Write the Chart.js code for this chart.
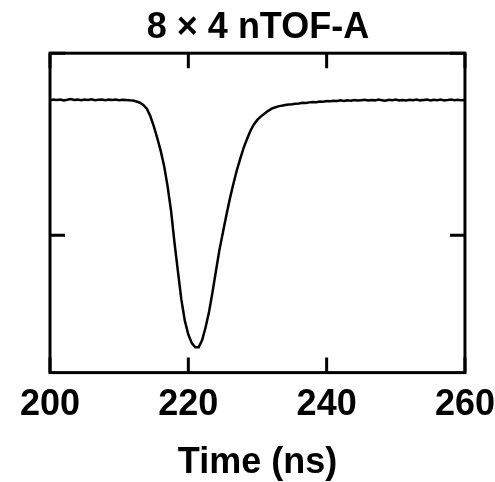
<!DOCTYPE html>
<html>
<head>
<meta charset="utf-8">
<script src="https://cdn.jsdelivr.net/npm/chart.js@4.4.1/dist/chart.umd.min.js"></script>
<style>
  html, body { margin: 0; padding: 0; background: #fff; }
  #wrap { width: 495px; height: 482px; }
</style>
</head>
<body>
<div id="wrap"><canvas id="pulseChart"></canvas></div>
<script>
// time axis (ns), sampled every 0.5 ns
const times = [
  200.0, 200.5, 201.0, 201.5, 202.0, 202.5, 203.0, 203.5, 204.0, 204.5,
  205.0, 205.5, 206.0, 206.5, 207.0, 207.5, 208.0, 208.5, 209.0, 209.5,
  210.0, 210.5, 211.0, 211.5, 212.0, 212.5, 213.0, 213.5, 214.0, 214.5,
  215.0, 215.5, 216.0, 216.5, 217.0, 217.5, 218.0, 218.5, 219.0, 219.5,
  220.0, 220.5, 221.0, 221.5, 222.0, 222.5, 223.0, 223.5, 224.0, 224.5,
  225.0, 225.5, 226.0, 226.5, 227.0, 227.5, 228.0, 228.5, 229.0, 229.5,
  230.0, 230.5, 231.0, 231.5, 232.0, 232.5, 233.0, 233.5, 234.0, 234.5,
  235.0, 235.5, 236.0, 236.5, 237.0, 237.5, 238.0, 238.5, 239.0, 239.5,
  240.0, 240.5, 241.0, 241.5, 242.0, 242.5, 243.0, 243.5, 244.0, 244.5,
  245.0, 245.5, 246.0, 246.5, 247.0, 247.5, 248.0, 248.5, 249.0, 249.5,
  250.0, 250.5, 251.0, 251.5, 252.0, 252.5, 253.0, 253.5, 254.0, 254.5,
  255.0, 255.5, 256.0, 256.5, 257.0, 257.5, 258.0, 258.5, 259.0, 259.5,
  260.0
];

// detector signal (arb. units)
const signal = [
  -0.258, -0.255, -0.257, -0.254, -0.259, -0.256, -0.252, -0.257, -0.255, -0.258,
  -0.254, -0.257, -0.253, -0.258, -0.256, -0.254, -0.258, -0.255, -0.257, -0.254,
  -0.258, -0.256, -0.257, -0.259, -0.260, -0.265, -0.272, -0.284, -0.305, -0.345,
  -0.400, -0.465, -0.535, -0.620, -0.730, -0.865, -1.040, -1.200, -1.355, -1.470,
  -1.545, -1.592, -1.615, -1.615, -1.575, -1.505, -1.420, -1.311, -1.195, -1.080,
  -0.985, -0.890, -0.800, -0.720, -0.645, -0.580, -0.520, -0.470, -0.425, -0.390,
  -0.365, -0.347, -0.332, -0.318, -0.306, -0.298, -0.292, -0.288, -0.285, -0.282,
  -0.280, -0.277, -0.276, -0.272, -0.273, -0.270, -0.268, -0.269, -0.265, -0.266,
  -0.263, -0.264, -0.261, -0.262, -0.259, -0.262, -0.258, -0.261, -0.257, -0.260,
  -0.258, -0.256, -0.260, -0.257, -0.259, -0.255, -0.258, -0.261, -0.256, -0.258,
  -0.255, -0.259, -0.257, -0.260, -0.256, -0.258, -0.254, -0.259, -0.257, -0.255,
  -0.260, -0.256, -0.258, -0.255, -0.259, -0.257, -0.254, -0.258, -0.256, -0.259,
  -0.257
];

const xTicks = [200, 220, 240, 260];
const yTicks = [0, -1];

const FONT = "'Liberation Sans', Arial, Helvetica, sans-serif";

// frame + inward tick marks on all four sides
const framePlugin = {
  id: "frame",
  afterDraw(chart) {
    const { ctx, chartArea: a, scales } = chart;
    const len = 15;
    ctx.save();
    ctx.strokeStyle = "#000";
    ctx.lineWidth = 3;
    ctx.strokeRect(a.left, a.top, a.right - a.left, a.bottom - a.top);
    ctx.beginPath();
    xTicks.forEach((v) => {
      const px = scales.x.getPixelForValue(v);
      ctx.moveTo(px, a.bottom);
      ctx.lineTo(px, a.bottom - len);
      ctx.moveTo(px, a.top);
      ctx.lineTo(px, a.top + len);
    });
    yTicks.forEach((v) => {
      const py = scales.y.getPixelForValue(v);
      ctx.moveTo(a.left, py);
      ctx.lineTo(a.left + len, py);
      ctx.moveTo(a.right, py);
      ctx.lineTo(a.right - len, py);
    });
    ctx.stroke();
    ctx.restore();
  },
};

const ctx = document.getElementById("pulseChart").getContext("2d");
new Chart(ctx, {
  type: "line",
  data: {
    datasets: [
      {
        data: times.map((t, i) => ({ x: t, y: signal[i] })),
        borderColor: "#000",
        borderWidth: 2.5,
        pointRadius: 0,
        tension: 0,
        fill: false,
      },
    ],
  },
  options: {
    responsive: true,
    maintainAspectRatio: false,
    animation: false,
    layout: { padding: { left: 50, right: 29, top: 0, bottom: -3 } },
    plugins: {
      legend: { display: false },
      tooltip: { enabled: false },
      title: {
        display: true,
        text: "8 \u00d7 4 nTOF-A",
        color: "#000",
        font: { family: FONT, size: 36, weight: "bold" },
        padding: { top: 6, bottom: 4 },
      },
    },
    scales: {
      x: {
        type: "linear",
        min: 200,
        max: 260,
        afterBuildTicks: (axis) => {
          axis.ticks = xTicks.map((v) => ({ value: v }));
        },
        grid: {
          drawOnChartArea: false,
          drawTicks: true,
          tickLength: 11,
          tickColor: "rgba(0,0,0,0)",
        },
        border: { display: false },
        ticks: {
          color: "#000",
          padding: 0,
          maxRotation: 0,
          font: { family: FONT, size: 36, weight: "bold" },
        },
        title: {
          display: true,
          text: "Time (ns)",
          color: "#000",
          font: { family: FONT, size: 36, weight: "bold" },
          padding: { top: 15, bottom: 0 },
        },
      },
      y: {
        display: false,
        min: -1.754,
        max: 0,
      },
    },
  },
  plugins: [framePlugin],
});
</script>
</body>
</html>
